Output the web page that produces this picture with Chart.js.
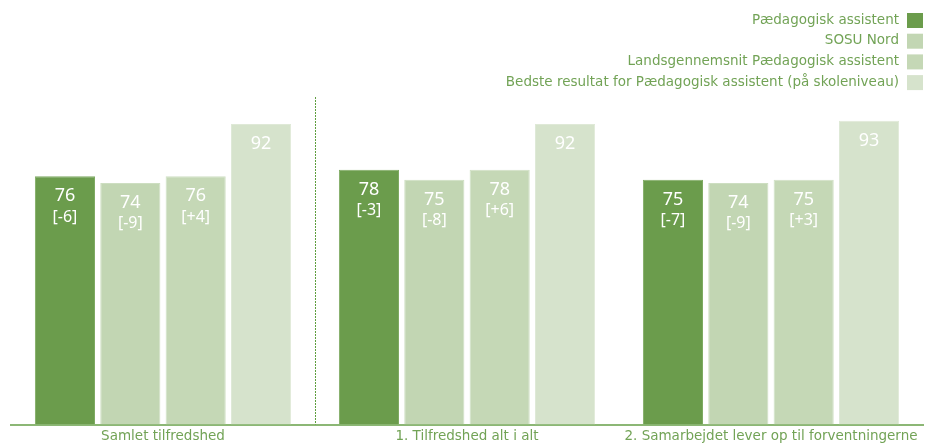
<!DOCTYPE html>
<html>
<head>
<meta charset="utf-8">
<script src="https://cdn.jsdelivr.net/npm/chart.js@4/dist/chart.umd.min.js"></script>
<style>
  html, body { margin: 0; padding: 0; background: #fff; }
  #wrap { width: 926px; height: 446px; position: relative; }
</style>
</head>
<body>
<div id="wrap"><canvas id="myChart"></canvas></div>
<script>
// categories and series
const categories = ['Samlet tilfredshed', '1. Tilfredshed alt i alt', '2. Samarbejdet lever op til forventningerne'];

const paedagogisk = [76, 78, 75];
const paedagogiskDiff = ['[-6]', '[-3]', '[-7]'];

const sosuNord = [74, 75, 74];
const sosuNordDiff = ['[-9]', '[-8]', '[-9]'];

const landsgennemsnit = [76, 78, 75];
const landsgennemsnitDiff = ['[+4]', '[+6]', '[+3]'];

const bedste = [92, 92, 93];

const seriesNames = [
  'Pædagogisk assistent',
  'SOSU Nord',
  'Landsgennemsnit Pædagogisk assistent',
  'Bedste resultat for Pædagogisk assistent (på skoleniveau)'
];

const textGreen = '#72a356';
const fontFamily = '"DejaVu Sans", Verdana, sans-serif';
const valueFont = '"Noto Sans", "Open Sans", sans-serif';

const data = {
  labels: categories,
  datasets: [
    { label: seriesNames[0], data: paedagogisk, diff: paedagogiskDiff, backgroundColor: '#6b9c4c', borderColor: '#7fab63' },
    { label: seriesNames[1], data: sosuNord, diff: sosuNordDiff, backgroundColor: '#c2d6b3', borderColor: '#cddec1' },
    { label: seriesNames[2], data: landsgennemsnit, diff: landsgennemsnitDiff, backgroundColor: '#c5d8b6', borderColor: '#d0e0c4' },
    { label: seriesNames[3], data: bedste, diff: null, backgroundColor: '#d6e3cc', borderColor: '#dfe9d7' }
  ]
};

// value + [difference] inside the bars
const barLabels = {
  id: 'barLabels',
  afterDatasetsDraw(chart) {
    const ctx = chart.ctx;
    ctx.save();
    ctx.fillStyle = '#ffffff';
    ctx.textAlign = 'center';
    ctx.textBaseline = 'middle';
    chart.data.datasets.forEach((ds, i) => {
      chart.getDatasetMeta(i).data.forEach((bar, j) => {
        ctx.font = '18px ' + valueFont;
        ctx.fillText(String(ds.data[j]), bar.x, bar.y + 20);
        if (ds.diff) {
          ctx.font = '16px ' + valueFont;
          ctx.fillText(ds.diff[j], bar.x, bar.y + 41);
        }
      });
    });
    ctx.restore();
  }
};

// dotted separator between first and second category
const separator = {
  id: 'separator',
  beforeDatasetsDraw(chart) {
    const x = (chart.scales.x.getPixelForValue(0) + chart.scales.x.getPixelForValue(1)) / 2;
    const ctx = chart.ctx;
    ctx.save();
    ctx.strokeStyle = '#5e9e3e';
    ctx.lineWidth = 1;
    ctx.setLineDash([2, 1]);
    ctx.beginPath();
    ctx.moveTo(Math.round(x) + 0.5, chart.chartArea.top - 1);
    ctx.lineTo(Math.round(x) + 0.5, chart.chartArea.bottom);
    ctx.stroke();
    ctx.restore();
  }
};

// legend: one item per row, right aligned, box on the right
const sideLegend = {
  id: 'sideLegend',
  afterDraw(chart) {
    const ctx = chart.ctx;
    const right = chart.chartArea.right;
    ctx.save();
    ctx.font = '13.5px ' + fontFamily;
    ctx.textAlign = 'right';
    ctx.textBaseline = 'middle';
    chart.data.datasets.forEach((ds, i) => {
      const y = 20 + i * 20.7;
      ctx.fillStyle = ds.backgroundColor;
      ctx.fillRect(right - 16, y - 7, 16, 15);
      ctx.fillStyle = textGreen;
      ctx.fillText(ds.label, right - 24, y);
    });
    ctx.restore();
  }
};

const config = {
  type: 'bar',
  data,
  options: {
    responsive: true,
    maintainAspectRatio: false,
    animation: false,
    layout: {
      padding: { left: 11, right: 3, top: 98, bottom: -2 }
    },
    datasets: {
      bar: {
        categoryPercentage: 0.86,
        barPercentage: 0.92,
        borderWidth: 1
      }
    },
    plugins: {
      legend: { display: false },
      tooltip: { enabled: false }
    },
    scales: {
      x: {
        grid: { display: false, drawTicks: false },
        border: { display: true, color: '#8cb775', width: 2 },
        ticks: {
          color: textGreen,
          font: { family: fontFamily, size: 13.5, lineHeight: 1 },
          padding: 5,
          maxRotation: 0,
          autoSkip: false
        }
      },
      y: {
        display: false,
        min: 0,
        max: 100
      }
    }
  },
  plugins: [separator, barLabels, sideLegend]
};

const myChart = new Chart(document.getElementById('myChart'), config);
</script>
</body>
</html>
